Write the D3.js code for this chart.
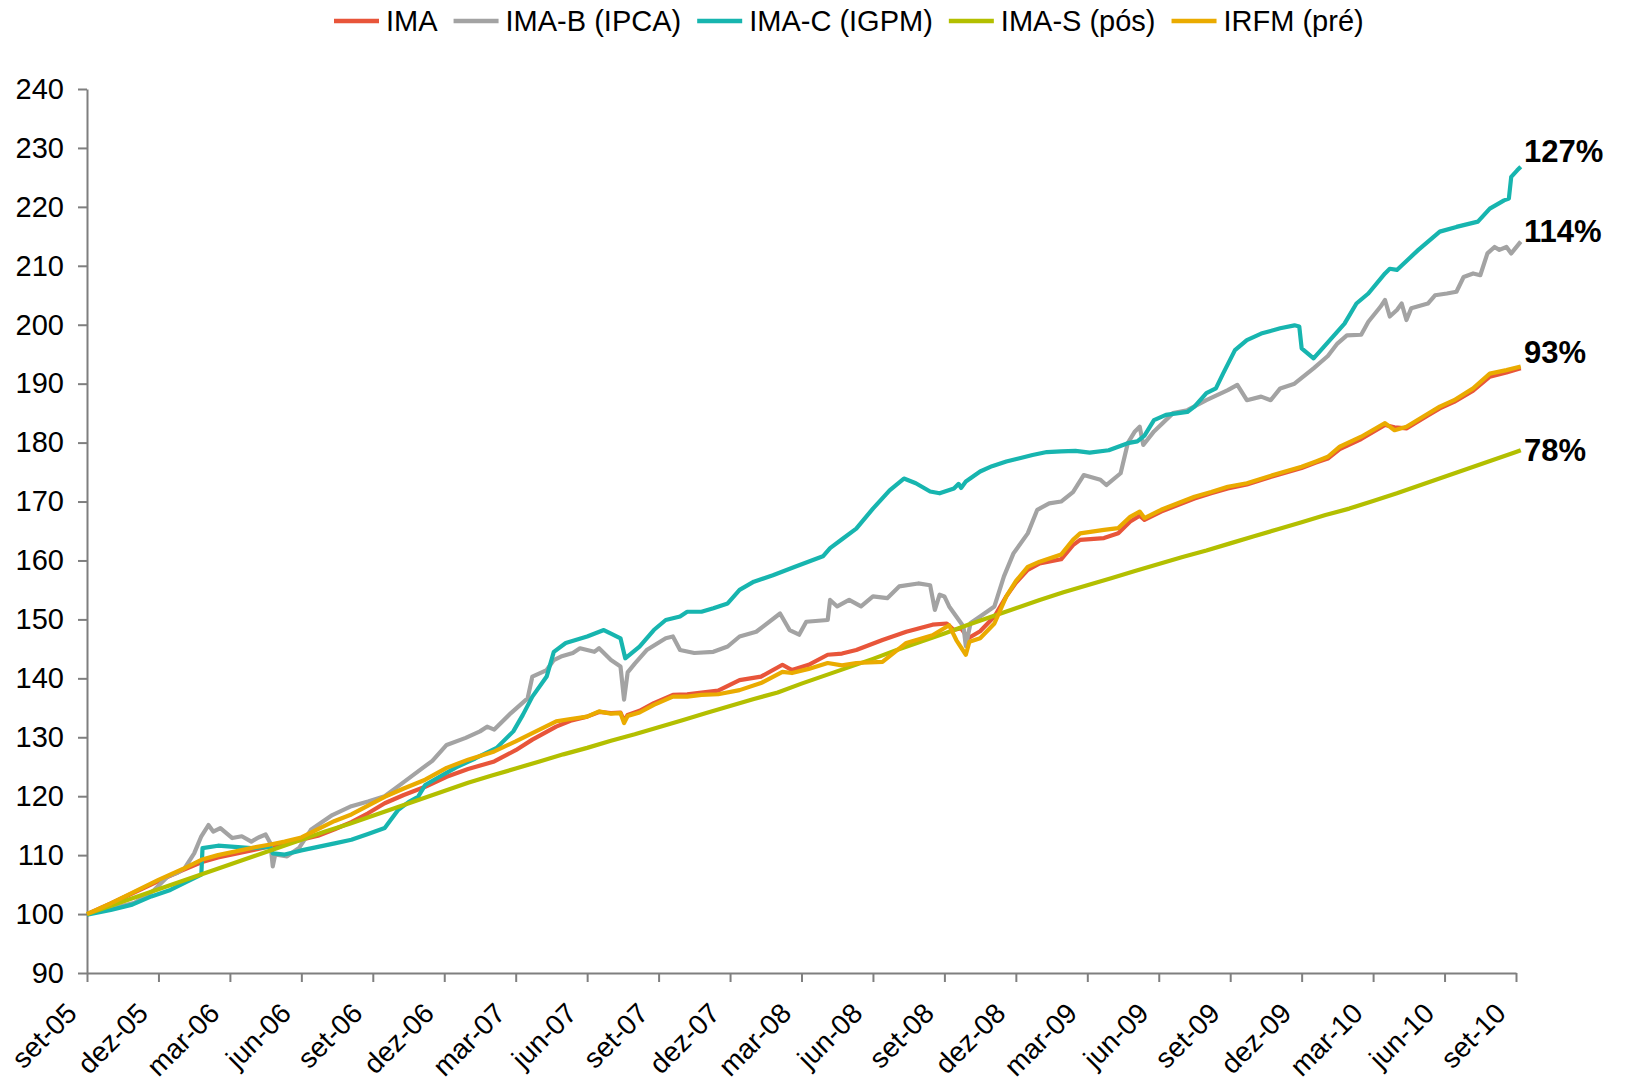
<!DOCTYPE html>
<html><head><meta charset="utf-8">
<script src="https://cdn.jsdelivr.net/npm/d3@7"></script>
<style>
body{margin:0;background:#fff}
svg{display:block}
text{font-family:"Liberation Sans",Arial,sans-serif;fill:#000}
</style>
</head><body>
<svg id="chart" width="1628" height="1090"></svg>
<script>
// ---------- DATA ----------
const seriesNames = ["IMA", "IMA-B (IPCA)", "IMA-C (IGPM)", "IMA-S (pós)", "IRFM (pré)"];
const tickLabels = ["set-05","dez-05","mar-06","jun-06","set-06","dez-06","mar-07","jun-07","set-07","dez-07",
  "mar-08","jun-08","set-08","dez-08","mar-09","jun-09","set-09","dez-09","mar-10","jun-10","set-10"];
const tickMonths = [0,3,6,9,12,15,18,21,24,27,30,33,36,39,42,45,48,51,54,57,60]; // months since set-05
const yTicks = [90,100,110,120,130,140,150,160,170,180,190,200,210,220,230,240];

// months since set-05 / index value
const imaT = [0,1,2,3,4,4.8,5.5,6.2,7,7.7,8.3,9,9.7,10.4,11.1,11.8,12.5,13.3,14.2,15.1,16,17.1,18,18.7,19.7,20.3,21,21.5,22,22.4,22.55,22.7,23.2,23.8,24.6,25.2,25.8,26.5,27.4,28.3,29.2,29.6,30.3,31.1,31.7,32.3,33.4,34.4,35.5,36.1,36.4,36.7,37,37.5,38.1,38.6,39,39.5,40,40.9,41.4,41.7,42.7,43.3,43.8,44.2,44.4,45.1,45.8,46.5,47.2,47.9,48.7,49.8,51,51.6,52.1,52.6,53.5,54.5,54.9,55.4,56.3,56.8,57.4,58.2,58.9,59.6,60.2];
const imaV = [100.0,101.8,103.7,105.6,107.4,108.8,109.6,110.2,110.9,111.5,111.9,112.6,113.3,114.4,115.6,117.1,118.8,120.2,121.6,123.3,124.6,125.9,127.8,129.6,131.8,132.8,133.5,134.3,134.1,134.2,132.8,133.8,134.5,135.8,137.2,137.3,137.6,137.9,139.7,140.3,142.3,141.4,142.3,144.0,144.2,144.8,146.5,147.9,149.1,149.3,148.2,148.5,146.8,148.0,150.5,153.9,156.2,158.4,159.5,160.2,162.6,163.5,163.8,164.6,166.6,167.6,166.9,168.3,169.4,170.5,171.4,172.2,172.9,174.3,175.7,176.6,177.3,178.9,180.6,183.0,182.6,182.4,184.6,185.8,186.9,188.8,191.2,191.9,192.6];

const imaBT = [0,1,2,2.8,3.4,3.8,4.1,4.5,4.8,5.1,5.3,5.6,6.1,6.5,6.9,7.2,7.5,7.7,7.8,7.9,8.4,8.9,9.4,10.3,11.1,11.8,12.5,13.2,14,14.5,15.1,15.9,16.5,16.8,17.1,17.8,18.5,18.7,19.3,19.6,19.9,20.4,20.7,21.3,21.5,22,22.4,22.55,22.7,23,23.5,24.3,24.6,24.9,25.5,26.3,26.9,27.4,28.1,29.1,29.5,29.9,30.2,31.1,31.2,31.5,32,32.5,33,33.6,34.1,34.9,35.4,35.6,35.8,36,36.2,36.5,36.8,36.9,37.1,37.5,38.1,38.5,38.9,39.5,39.9,40.4,40.9,41.4,41.85,42.55,42.8,43.4,43.7,44,44.2,44.35,44.8,45.6,46.2,47,47.9,48.3,48.7,49.3,49.7,50.1,50.7,51.5,52.1,52.5,52.9,53.5,53.8,54.3,54.5,54.7,55,55.2,55.4,55.6,56.3,56.6,57.1,57.5,57.8,58.2,58.5,58.8,59.1,59.3,59.6,59.8,60.2];
const imaBV = [100.0,100.9,101.9,104.0,106.4,107.0,107.8,110.3,113.2,115.1,114.0,114.6,112.9,113.2,112.3,113.0,113.5,112.0,108.1,110.1,109.8,111.2,114.3,116.8,118.3,119.1,120.0,122.1,124.5,126.0,128.7,129.9,131.0,131.8,131.3,134.1,136.6,140.3,141.4,143.1,143.7,144.3,145.1,144.5,145.1,143.1,142.0,136.4,141.0,142.5,144.8,146.8,147.1,144.8,144.3,144.5,145.4,147.1,147.9,151.0,148.2,147.4,149.6,149.9,153.3,152.2,153.3,152.2,153.9,153.6,155.6,156.1,155.8,151.6,154.2,153.9,152.2,150.5,148.8,145.5,149.4,150.5,152.2,157.3,161.2,164.6,168.6,169.7,170.0,171.6,174.5,173.7,172.8,174.8,179.9,181.9,182.7,179.6,181.9,185.0,185.5,187.2,188.9,189.8,187.2,187.8,187.2,189.2,190.0,192.6,194.7,196.8,198.2,198.3,200.5,203.0,204.2,201.4,202.5,203.6,200.8,202.8,203.6,205.0,205.3,205.6,208.1,208.7,208.4,212.1,213.2,212.7,213.2,212.1,214.1];

const imaCT = [0,1,1.9,2.7,3.5,4.2,4.8,4.85,5.5,6.2,6.9,7.7,7.8,8.3,9,9.7,10.4,11.1,11.8,12.5,13.07,13.5,13.9,14.2,14.8,15.5,16.3,17.2,17.9,18.3,18.7,19.3,19.6,20.1,21,21.7,22,22.4,22.6,23.2,23.8,24.3,24.9,25.2,25.8,26.3,26.9,27.4,28,28.8,29.7,30.9,31.2,31.7,32.3,33,33.7,34.3,34.8,35.4,35.8,36.4,36.6,36.7,36.9,37.5,38,38.6,39.2,39.7,40.3,40.9,41.5,42.1,42.9,43.7,44.1,44.4,44.8,45.3,46.2,46.5,47,47.4,47.7,48.2,48.7,49.3,50.1,50.7,50.9,51,51.5,52.1,52.8,53.3,53.8,54.5,54.7,55,55.9,56.8,57.5,58.4,58.9,59.5,59.7,59.8,60.05,60.2];
const imaCV = [99.9,100.7,101.6,103.0,104.1,105.5,106.7,111.2,111.6,111.4,111.2,111.4,110.3,110.1,110.8,111.4,112.0,112.6,113.6,114.6,117.7,119.0,119.9,121.9,123.3,124.9,126.4,128.2,131.0,133.8,136.9,140.3,144.5,146.0,147.1,148.2,147.6,146.8,143.4,145.4,148.2,149.9,150.5,151.3,151.3,151.9,152.7,155.0,156.4,157.5,158.9,160.7,162.1,163.6,165.4,168.8,171.9,173.9,173.1,171.7,171.4,172.2,173.0,172.3,173.4,175.1,176.0,176.8,177.4,177.9,178.4,178.5,178.6,178.3,178.7,179.9,180.2,181.2,183.8,184.7,185.2,186.1,188.4,189.2,191.7,195.7,197.4,198.5,199.4,199.9,199.7,196.0,194.3,197.0,200.2,203.6,205.3,208.7,209.5,209.3,212.7,215.8,216.6,217.5,219.7,221.1,221.4,225.1,226.2,226.8];

const imaST = [0,1,2,3,4,5,6,7,8,9,10,11,12,13,14,15,16,17,18,19,20,21,22,23,24,25,26,27,28,29,30,31,32,33,34,35,36,37,38,39,40,41,42,43,44,45,46,47,48,49,50,51,52,53,54,55,56,57,58,59,60,60.2];
const imaSV = [100.0,101.4,102.8,104.2,105.6,107.0,108.4,109.8,111.2,112.6,114.0,115.3,116.7,118.1,119.5,120.9,122.3,123.5,124.7,125.9,127.1,128.2,129.4,130.5,131.7,132.9,134.1,135.3,136.5,137.6,139.1,140.5,141.9,143.3,144.8,146.2,147.6,149.1,150.5,151.9,153.3,154.6,155.8,157.0,158.2,159.4,160.6,161.7,162.9,164.1,165.3,166.5,167.7,168.8,170.1,171.4,172.8,174.2,175.6,177.0,178.4,178.7];

const irfmT = [0,1,2,3,4,4.8,5.5,6.2,7,7.7,8.3,9,9.7,10.4,11.1,11.8,12.5,13.3,14.2,15.1,16,17.1,18,18.7,19.7,20.3,21,21.5,22,22.4,22.55,22.7,23.2,23.8,24.6,25.2,25.8,26.5,27.4,28.3,29.2,29.6,30.3,31.1,31.7,32.3,33.4,34.4,35.5,36.2,36.5,36.9,37.05,37.5,38.1,38.6,39,39.5,40,40.9,41.4,41.7,42.7,43.3,43.8,44.2,44.4,45.1,45.8,46.5,47.2,47.9,48.7,49.8,51,51.6,52.1,52.6,53.5,54.5,54.9,55.4,56.3,56.8,57.4,58.2,58.9,59.6,60.2];
const irfmV = [100.0,101.8,103.8,105.8,107.6,109.2,110.0,110.6,111.3,111.8,112.3,113.0,114.4,115.8,116.9,118.4,119.9,121.3,122.8,124.8,126.2,127.6,129.3,130.7,132.7,133.1,133.5,134.4,134.0,134.1,132.4,133.6,134.2,135.5,136.9,136.9,137.2,137.3,138.0,139.2,141.1,140.9,141.6,142.6,142.2,142.6,142.8,146.0,147.3,149.0,146.5,144.0,146.2,146.8,149.3,153.9,156.5,158.9,159.8,161.0,163.5,164.6,165.2,165.5,167.4,168.3,167.2,168.6,169.7,170.8,171.6,172.5,173.1,174.5,175.9,176.8,177.6,179.3,181.0,183.3,182.1,182.7,184.9,186.1,187.2,189.2,191.7,192.3,192.9];

const endLabels = ["127%", "114%", "93%", "78%"];
const endLabelSeries = ["IMA-C (IGPM)", "IMA-B (IPCA)", "IRFM (pré)", "IMA-S (pós)"];

// ---------- STYLE ----------
const colors = {"IMA":"#E8553A","IMA-B (IPCA)":"#A3A3A3","IMA-C (IGPM)":"#17B5AF","IMA-S (pós)":"#B3BF00","IRFM (pré)":"#EAAB00"};
const labelOffsets = {"IMA-C (IGPM)":-5,"IMA-B (IPCA)":0,"IRFM (pré)":-4,"IMA-S (pós)":11};

const series = [
  {name:"IMA", t:imaT, v:imaV},
  {name:"IMA-B (IPCA)", t:imaBT, v:imaBV},
  {name:"IMA-C (IGPM)", t:imaCT, v:imaCV},
  {name:"IMA-S (pós)", t:imaST, v:imaSV},
  {name:"IRFM (pré)", t:irfmT, v:irfmV}
].map(s => ({name:s.name, pts:d3.zip(s.t, s.v).map(([t,v]) => ({t, v}))}));

const svg = d3.select("#chart");
const x = d3.scaleLinear().domain([0,60]).range([87,1516]);
const y = d3.scaleLinear().domain([90,240]).range([973,89]);
const axisColor = "#7f7f7f";
const fs = 29;

// Y axis
const gy = svg.append("g").attr("transform","translate(87,0)")
  .call(d3.axisLeft(y).tickValues(yTicks).tickSize(9).tickSizeOuter(0).tickPadding(14));
gy.select(".domain").attr("stroke",axisColor).attr("stroke-width",2);
gy.selectAll(".tick line").attr("stroke",axisColor).attr("stroke-width",2);
gy.selectAll(".tick text").attr("font-size",fs).attr("font-family","Liberation Sans, Arial, sans-serif").attr("fill","#000");

// X axis
const gx = svg.append("g").attr("transform","translate(0,973)")
  .call(d3.axisBottom(x).tickValues(tickMonths).tickSize(9).tickSizeOuter(0).tickFormat((d,i)=>tickLabels[i]));
gx.select(".domain").attr("stroke",axisColor).attr("stroke-width",2);
gx.selectAll(".tick line").attr("stroke",axisColor).attr("stroke-width",2);
gx.selectAll(".tick text")
  .attr("font-size",28).attr("font-family","Liberation Sans, Arial, sans-serif").attr("fill","#000")
  .attr("x",0).attr("y",0).attr("dy","0.35em")
  .attr("text-anchor","end")
  .attr("transform","translate(-16,35) rotate(-45)");

// Lines
const line = d3.line().x(d=>x(d.t)).y(d=>y(d.v));
svg.append("g").selectAll("path").data(series).join("path")
  .attr("d", s => line(s.pts))
  .attr("fill","none")
  .attr("stroke", s => colors[s.name])
  .attr("stroke-width",4.2)
  .attr("stroke-linejoin","round");

// End labels
endLabels.forEach((lab,i) => {
  const s = series.find(d => d.name === endLabelSeries[i]);
  const last = s.pts[s.pts.length-1];
  svg.append("text")
    .attr("x", 1524)
    .attr("y", y(last.v) + labelOffsets[s.name])
    .attr("font-size",31).attr("font-weight","bold")
    .text(lab);
});

// Legend
const lg = svg.append("g").attr("transform","translate(0,21)");
let lx = 334;
seriesNames.forEach(name => {
  lg.append("line").attr("x1",lx).attr("x2",lx+45).attr("y1",0).attr("y2",0)
    .attr("stroke",colors[name]).attr("stroke-width",4.5);
  const t = lg.append("text").attr("x",lx+52).attr("y",0).attr("dy","0.35em")
    .attr("font-size",fs).text(name);
  lx = lx + 52 + t.node().getComputedTextLength() + 16;
});
</script>
</body></html>
